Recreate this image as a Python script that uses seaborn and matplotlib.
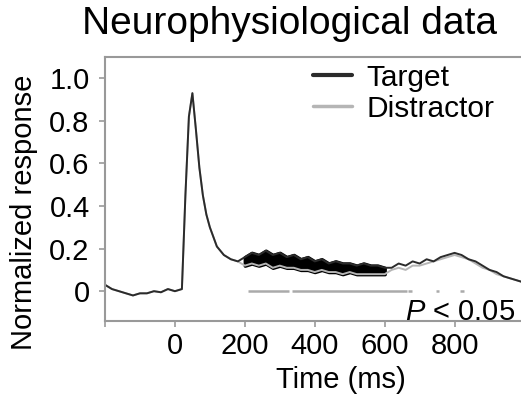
import numpy as np
import pandas as pd
import matplotlib
matplotlib.use("Agg")
import matplotlib.pyplot as plt
import seaborn as sns
from matplotlib.lines import Line2D

# time axis (ms) and normalized responses
time = [-200, -180, -160, -140, -120, -100, -80, -60, -40, -20, 0, 20, 30, 40, 50, 60, 70, 80, 90, 100,
        120, 140, 160, 180,
        200, 220, 240, 260, 280, 300, 320, 340, 360, 380, 400, 420, 440, 460, 480, 500, 520, 540, 560, 580, 600,
        620, 640, 660, 680, 700, 720, 740, 760, 780, 800, 820, 840, 860, 880, 900, 920, 940, 960, 980, 1000]

target = [0.03, 0.01, 0.0, -0.01, -0.02, -0.01, -0.01, 0.0, -0.005, 0.01, 0.0, 0.01, 0.45, 0.82, 0.93, 0.76, 0.58, 0.45, 0.36, 0.30,
          0.21, 0.17, 0.15, 0.14,
          0.16, 0.18, 0.17, 0.19, 0.17, 0.18, 0.16, 0.17, 0.15, 0.16, 0.14, 0.15, 0.13, 0.14, 0.13, 0.13, 0.12, 0.13, 0.12, 0.12, 0.11,
          0.11, 0.13, 0.12, 0.14, 0.13, 0.15, 0.14, 0.16, 0.17, 0.18, 0.17, 0.15, 0.14, 0.12, 0.10, 0.09, 0.07, 0.06, 0.05, 0.04]

distractor = [0.03, 0.01, 0.0, -0.01, -0.02, -0.01, -0.01, 0.0, -0.005, 0.01, 0.0, 0.01, 0.45, 0.82, 0.93, 0.76, 0.58, 0.45, 0.36, 0.30,
              0.21, 0.17, 0.15, 0.14,
              0.12, 0.13, 0.12, 0.13, 0.11, 0.12, 0.11, 0.11, 0.10, 0.10, 0.09, 0.10, 0.09, 0.09, 0.08, 0.09, 0.08, 0.08, 0.08, 0.08, 0.08,
              0.10, 0.11, 0.10, 0.12, 0.12, 0.13, 0.14, 0.15, 0.16, 0.17, 0.16, 0.15, 0.13, 0.11, 0.10, 0.08, 0.07, 0.06, 0.05, 0.04]

# significance marks (P < 0.05)
sig_start = [210, 335, 668, 746, 816]
sig_end = [325, 665, 678, 756, 826]

# significant window where target is drawn as a dark band
band_lo, band_hi = 200, 600

sns.set_style("ticks")
plt.rcParams['font.family'] = ['Liberation Sans', 'DejaVu Sans']
plt.rcParams['mathtext.fontset'] = 'custom'
plt.rcParams['mathtext.it'] = 'Liberation Sans:italic'
plt.rcParams['mathtext.rm'] = 'Liberation Sans'
plt.rcParams['text.color'] = 'black'
plt.rcParams['axes.labelcolor'] = 'black'

df = pd.DataFrame({
    'time': time * 2,
    'response': target + distractor,
    'cond': ['Target'] * len(time) + ['Distractor'] * len(time),
})

fig = plt.figure(figsize=(5.21, 3.97), dpi=100)
ax = fig.add_axes([105 / 521, 76 / 397, 416 / 521, 264 / 397])

sns.lineplot(data=df, x='time', y='response', hue='cond', hue_order=['Distractor', 'Target'],
             palette={'Target': '#2b2b2b', 'Distractor': '#b5b5b5'}, lw=1.4, ax=ax, legend=False)

t = np.array(time)
m = (t >= band_lo) & (t <= band_hi)
ax.fill_between(t[m], np.array(distractor)[m], np.array(target)[m], color='black', lw=2.5, edgecolor='black')

ax.hlines([0] * len(sig_start), sig_start, sig_end, color='#aaaaaa', lw=1.8)

# legend
handles = [Line2D([], [], color='#2b2b2b', lw=3), Line2D([], [], color='#b5b5b5', lw=2.5)]
ax.legend(handles, ['Target', 'Distractor'], loc='upper left', bbox_to_anchor=(0.5, 0.975),
          frameon=False, fontsize=21.5, handlelength=1.3, handletextpad=0.5, labelspacing=0.1,
          borderpad=0, borderaxespad=0)

ax.set_xlim(-200, 990)
ax.set_ylim(-0.14, 1.1)
ax.set_xticks([-200, 0, 200, 400, 600, 800])
ax.set_xticklabels(['', '0', '200', '400', '600', '800'])
ax.set_yticks([0, 0.2, 0.4, 0.6, 0.8, 1.0])
ax.set_yticklabels(['0', '0.2', '0.4', '0.6', '0.8', '1.0'])
ax.tick_params(labelsize=21, colors='#999999', labelcolor='black', length=4, width=1.2)
ax.tick_params(axis='y', pad=7)
ax.tick_params(axis='x', pad=4)

for s in ['left', 'top', 'bottom']:
    ax.spines[s].set_color('#999999')
    ax.spines[s].set_linewidth(1.5)
ax.spines['right'].set_visible(False)

ax.set_xlabel('Time (ms)', fontsize=21)
ax.set_ylabel('Normalized response', fontsize=21)
ax.xaxis.set_label_coords(0.567, -0.17)
ax.yaxis.set_label_coords(-0.16, 0.41)

ax.text(0.986, 0.004, '$P$ < 0.05', transform=ax.transAxes, ha='right', va='baseline', fontsize=21)

fig.text(290 / 521, (397 - 24) / 397, 'Neurophysiological data', ha='center', va='center', fontsize=28)

fig.savefig('out.png', dpi=100)
